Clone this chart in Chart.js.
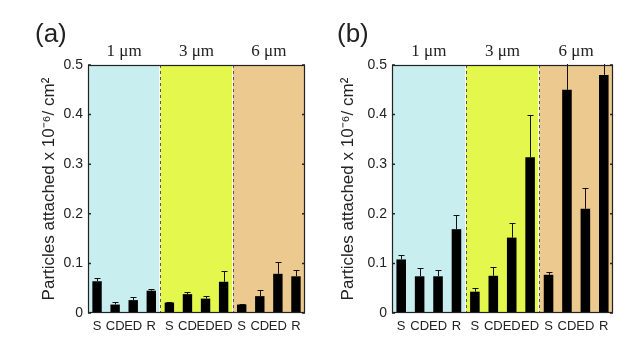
<!DOCTYPE html>
<html>
<head>
<meta charset="utf-8">
<script src="https://cdn.jsdelivr.net/npm/chart.js@4.4.0/dist/chart.umd.min.js"></script>
<style>
  body { margin: 0; background: #fff; }
  #wrap { position: relative; width: 640px; height: 350px; }
  canvas { position: absolute; top: 0; }
</style>
</head>
<body>
<div id="wrap">
  <canvas id="chartA" width="320" height="350" style="left:0"></canvas>
  <canvas id="chartB" width="320" height="350" style="left:320px"></canvas>
</div>
<script>
const categories = ['S', 'CD', 'ED', 'R', 'S', 'CD', 'ED', 'ED', 'S', 'CD', 'ED', 'R'];
const sizes = ['1 μm', '3 μm', '6 μm'];
const sizeColors = ['#c9eef0', '#e3f74c', '#ecc98e'];
const yTicks = ['0', '0.1', '0.2', '0.3', '0.4', '0.5'];

const valuesA = [0.064, 0.017, 0.026, 0.045, 0.021, 0.038, 0.029, 0.063, 0.017, 0.034, 0.079, 0.074];
const errorsA = [0.007, 0.006, 0.006, 0.004, 0.002, 0.005, 0.005, 0.021, 0.001, 0.012, 0.024, 0.013];
const valuesB = [0.108, 0.074, 0.074, 0.169, 0.043, 0.075, 0.152, 0.314, 0.077, 0.450, 0.210, 0.480];
const errorsB = [0.009, 0.016, 0.013, 0.028, 0.007, 0.018, 0.029, 0.086, 0.006, 0.060, 0.043, 0.050];

const yTitle = 'Particles attached x 10⁻⁶/ cm²';
const sans = '"Liberation Sans", Arial, sans-serif';

const panelPlugin = {
  id: 'panel',
  beforeDatasetsDraw(chart, args, opts) {
    const ctx = chart.ctx;
    const a = chart.chartArea;
    const xs = chart.scales.x;
    ctx.save();
    for (let i = 0; i < sizes.length; i++) {
      const x0 = xs.getPixelForValue(i * 4 - 0.5);
      const x1 = xs.getPixelForValue(i * 4 + 3.5);
      ctx.fillStyle = sizeColors[i];
      ctx.fillRect(x0, a.top, x1 - x0, a.bottom - a.top);
      ctx.fillStyle = '#222';
      ctx.font = '17px "Liberation Serif", serif';
      ctx.textAlign = 'center';
      ctx.textBaseline = 'middle';
      ctx.fillText(sizes[i], (x0 + x1) / 2, 52);
    }
    // dashed separators
    for (let i = 1; i < sizes.length; i++) {
      const x = Math.round(xs.getPixelForValue(i * 4 - 0.5)) + 0.5;
      ctx.strokeStyle = 'rgba(255,255,255,0.8)';
      ctx.lineWidth = 1;
      ctx.setLineDash([]);
      ctx.beginPath(); ctx.moveTo(x - 1, a.top); ctx.lineTo(x - 1, a.bottom); ctx.stroke();
      ctx.strokeStyle = '#555';
      ctx.setLineDash([3, 3]);
      ctx.beginPath(); ctx.moveTo(x, a.top); ctx.lineTo(x, a.bottom); ctx.stroke();
    }
    ctx.restore();
  },
  afterDatasetsDraw(chart, args, opts) {
    const ctx = chart.ctx;
    const a = chart.chartArea;
    const xs = chart.scales.x;
    const ys = chart.scales.y;
    const vals = chart.data.datasets[0].data;
    ctx.save();
    ctx.beginPath();
    ctx.rect(a.left, a.top - 1, a.right - a.left, a.bottom - a.top + 1);
    ctx.clip();
    ctx.strokeStyle = '#111';
    ctx.lineWidth = 1;
    opts.errors.forEach((e, i) => {
      const x = Math.round(xs.getPixelForValue(i)) + 0.5;
      const y0 = ys.getPixelForValue(vals[i]);
      const y1 = Math.round(ys.getPixelForValue(vals[i] + e)) + 0.5;
      ctx.beginPath();
      ctx.moveTo(x, y0); ctx.lineTo(x, y1);
      ctx.moveTo(x - 3, y1); ctx.lineTo(x + 3, y1);
      ctx.stroke();
    });
    ctx.restore();

    // frame and inside ticks
    ctx.save();
    ctx.strokeStyle = '#222';
    ctx.lineWidth = 1.2;
    ctx.strokeRect(a.left + 0.5, a.top + 0.5, a.right - a.left - 1, a.bottom - a.top - 1);
    ctx.lineWidth = 1.5;
    yTicks.forEach((t, i) => {
      const y = ys.getPixelForValue(i / 10);
      ctx.beginPath();
      ctx.moveTo(a.left, y); ctx.lineTo(a.left + 3, y);
      ctx.moveTo(a.right, y); ctx.lineTo(a.right - 3, y);
      ctx.stroke();
    });
    ctx.fillStyle = '#222';
    ctx.font = '26px ' + sans;
    ctx.textAlign = 'left';
    ctx.textBaseline = 'middle';
    ctx.fillText(opts.label, opts.labelX, 35);
    ctx.restore();
  }
};

function makePanel(id, values, errors, label, labelX, padLeft, yWidth, plotWidth) {
  return new Chart(document.getElementById(id), {
    type: 'bar',
    data: {
      labels: categories,
      datasets: [{
        data: values,
        backgroundColor: '#000',
        borderWidth: 0,
        barPercentage: 0.52,
        categoryPercentage: 1
      }]
    },
    options: {
      responsive: false,
      animation: false,
      layout: { padding: { left: padLeft, right: 320 - padLeft - yWidth - plotWidth, top: 65, bottom: 17 } },
      plugins: {
        legend: { display: false },
        tooltip: { enabled: false },
        panel: { errors, label, labelX }
      },
      scales: {
        x: {
          grid: { display: false, drawTicks: false },
          border: { display: false },
          afterFit: s => { s.height = 20; },
          ticks: {
            autoSkip: false, maxRotation: 0, padding: 6,
            color: '#222',
            font: { family: sans, size: 13 }
          }
        },
        y: {
          min: 0, max: 0.5,
          grid: { display: false, drawTicks: false },
          border: { display: false },
          afterFit: s => { s.width = yWidth; },
          ticks: {
            stepSize: 0.1, padding: 5,
            color: '#222',
            font: { family: sans, size: 14 },
            callback: (v, i) => yTicks[i]
          },
          title: {
            display: true, text: yTitle, color: '#222',
            font: { family: sans, size: 17 }
          }
        }
      }
    },
    plugins: [panelPlugin]
  });
}

makePanel('chartA', valuesA, errorsA, '(a)', 35, 35, 53, 217);
makePanel('chartB', valuesB, errorsB, '(b)', 17, 14, 58, 221);
</script>
</body>
</html>
